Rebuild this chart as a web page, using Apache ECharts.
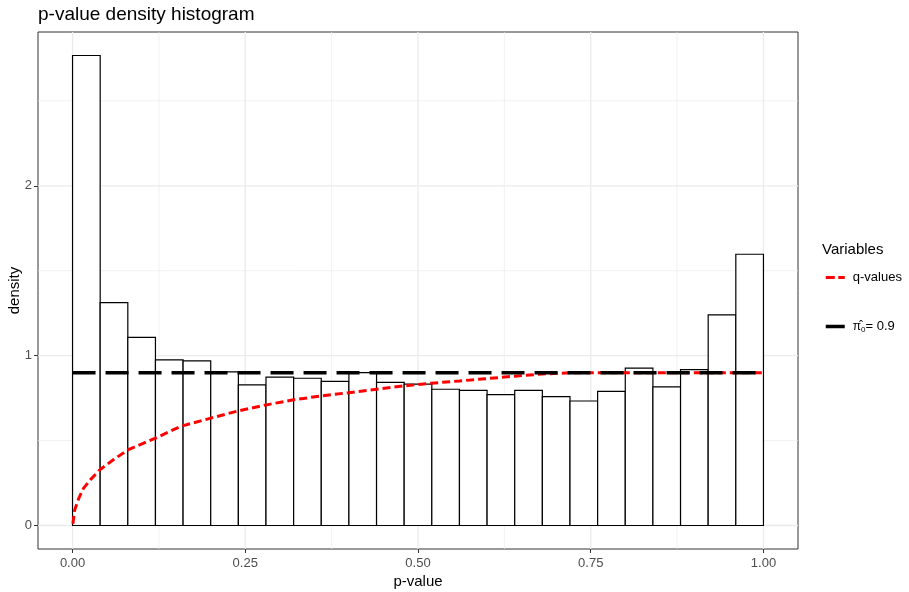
<!DOCTYPE html>
<html>
<head>
<meta charset="utf-8">
<script src="https://cdn.jsdelivr.net/npm/echarts@6/dist/echarts.min.js"></script>
<style>
html,body{margin:0;padding:0;background:#fff;}
#chart{width:909px;height:592px;}
</style>
</head>
<body>
<div id="chart"></div>
<script>
// ---- data ----
var binWidth = 0.04;
var binStarts = [0.00,0.04,0.08,0.12,0.16,0.20,0.24,0.28,0.32,0.36,0.40,0.44,0.48,0.52,0.56,0.60,0.64,0.68,0.72,0.76,0.80,0.84,0.88,0.92,0.96];
var densities = [2.767,1.312,1.108,0.975,0.969,0.904,0.828,0.873,0.867,0.848,0.900,0.843,0.832,0.802,0.796,0.771,0.796,0.759,0.733,0.790,0.926,0.816,0.918,1.240,1.597];
var qP = [0.0005,0.003,0.009,0.016,0.026,0.04,0.06,0.08,0.103,0.12,0.156,0.20,0.24,0.28,0.32,0.36,0.40,0.44,0.48,0.52,0.56,0.60,0.64,0.68,0.72,0.76,1.00];
var qV = [0.01,0.09,0.16,0.22,0.27,0.33,0.39,0.445,0.485,0.514,0.583,0.632,0.675,0.71,0.74,0.763,0.782,0.802,0.822,0.838,0.851,0.865,0.879,0.892,0.899,0.90,0.90];
var pi0 = 0.9;
var xTicks = [0, 0.25, 0.5, 0.75, 1];
var xMinor = [0.125, 0.375, 0.625, 0.875];
var yTicks = [0, 1, 2];
var yMinor = [0.5, 1.5, 2.5];

// ---- build ----
var histData = binStarts.map(function(s, i){ return [s, s + binWidth, densities[i]]; });
var qData = qP.map(function(p, i){ return [p, qV[i]]; });
var piData = [[0, pi0], [1, pi0]];

var yMaxData = Math.max.apply(null, densities);
var yPad = yMaxData * 0.05;

// grid lines: [axis (0 = vertical line at x, 1 = horizontal line at y), value, isMajor]
var gridLines = [];
xMinor.forEach(function(v){ gridLines.push([0, v, 0]); });
yMinor.forEach(function(v){ gridLines.push([1, v, 0]); });
xTicks.forEach(function(v){ gridLines.push([0, v, 1]); });
yTicks.forEach(function(v){ gridLines.push([1, v, 1]); });

var FONT = '"Liberation Sans", Arial, sans-serif';
var chart = echarts.init(document.getElementById('chart'));
chart.setOption({
  animation: false,
  backgroundColor: '#fff',
  textStyle: {fontFamily: FONT},
  title: [
    {text: 'p-value density histogram', left: 33, top: 0,
     textStyle: {fontSize: 19, fontWeight: 'normal', color: '#000', fontFamily: FONT}},
    {text: 'Variables', left: 817, top: 237,
     textStyle: {fontSize: 15, fontWeight: 'normal', color: '#000', fontFamily: FONT}}
  ],
  grid: {left: 38, right: 111, top: 32, bottom: 43, show: true, outerBoundsMode: 'none',
         containLabel: false,
         borderColor: '#333', borderWidth: 1, backgroundColor: 'transparent'},
  legend: {
    orient: 'vertical', left: 819, top: 266, itemWidth: 19, itemHeight: 14, itemGap: 36,
    selectedMode: false,
    itemStyle: {opacity: 0},
    textStyle: {fontSize: 13, color: '#000', fontFamily: FONT, padding: [0,0,0,3],
      rich: {
        pi: {fontSize: 12, color: '#000', fontFamily: FONT},
        sub: {fontSize: 8, color: '#000', fontFamily: FONT, verticalAlign: 'bottom', padding: [6,0,0,0]},
        eq: {fontSize: 13, color: '#000', fontFamily: FONT}
      }
    },
    formatter: function(name){ return name === 'pi0' ? '{pi|π̂}{sub|0}{eq|= 0.9}' : name; },
    data: [
      {name: 'q-values', itemStyle: {opacity: 0}, lineStyle: {type: [9, 3.5], width: 3, color: '#ff0000'}},
      {name: 'pi0', itemStyle: {opacity: 0}, lineStyle: {type: 'solid', width: 3.5, color: '#000'}}
    ]
  },
  xAxis: {
    type: 'value', min: -0.05, max: 1.05,
    name: 'p-value', nameLocation: 'middle', nameGap: 25, nameMoveOverlap: false,
    nameTextStyle: {fontSize: 15, color: '#000', fontFamily: FONT},
    axisLine: {show: false, onZero: false},
    splitLine: {show: false},
    axisTick: {show: true, length: 4, customValues: xTicks, lineStyle: {color: '#333'}},
    axisLabel: {customValues: xTicks, margin: 8, fontSize: 13, color: '#4d4d4d', fontFamily: FONT,
      formatter: function(v){ return v.toFixed(2); }}
  },
  yAxis: {
    type: 'value', min: -yPad, max: yMaxData + yPad,
    name: 'density', nameLocation: 'middle', nameGap: 16, nameMoveOverlap: false,
    nameTextStyle: {fontSize: 15, color: '#000', fontFamily: FONT},
    axisLine: {show: false, onZero: false},
    splitLine: {show: false},
    axisTick: {show: true, length: 4, customValues: yTicks, lineStyle: {color: '#333'}},
    axisLabel: {customValues: yTicks, margin: 6, fontSize: 13, color: '#4d4d4d', fontFamily: FONT,
      formatter: function(v){ return String(Math.round(v)); }}
  },
  series: [
    {
      name: 'grid', type: 'custom', z: 0, silent: true,
      renderItem: function(params, api){
        var cs = params.coordSys;
        var kind = api.value(0), v = api.value(1), major = api.value(2);
        var shape;
        if (kind === 0) {
          var px = api.coord([v, 0])[0];
          shape = {x1: px, y1: cs.y, x2: px, y2: cs.y + cs.height};
        } else {
          var py = api.coord([0, v])[1];
          shape = {x1: cs.x, y1: py, x2: cs.x + cs.width, y2: py};
        }
        return {type: 'line', shape: shape,
          style: {stroke: '#ebebeb', lineWidth: major ? 1.3 : 0.7}};
      },
      encode: {x: -1, y: -1},
      data: gridLines
    },
    {
      name: 'hist', type: 'custom', z: 2, silent: true,
      renderItem: function(params, api){
        var p0 = api.coord([api.value(0), 0]);
        var p1 = api.coord([api.value(1), api.value(2)]);
        return {type: 'rect',
          shape: {x: p0[0], y: p1[1], width: p1[0] - p0[0], height: p0[1] - p1[1]},
          style: {fill: '#fff', stroke: '#000', lineWidth: 1.2}};
      },
      encode: {x: [0, 1], y: 2},
      data: histData
    },
    {
      name: 'q-values', type: 'line', z: 3, data: qData, showSymbol: false, symbol: 'none',
      smooth: false, lineStyle: {color: '#ff0000', width: 3, type: [8, 4]},
      itemStyle: {color: '#ff0000'}
    },
    {
      name: 'pi0', type: 'line', z: 4, data: piData, showSymbol: false, symbol: 'none',
      lineStyle: {color: '#000', width: 3.5, type: [23, 10]},
      itemStyle: {color: '#000'}
    }
  ]
});
</script>
</body>
</html>
